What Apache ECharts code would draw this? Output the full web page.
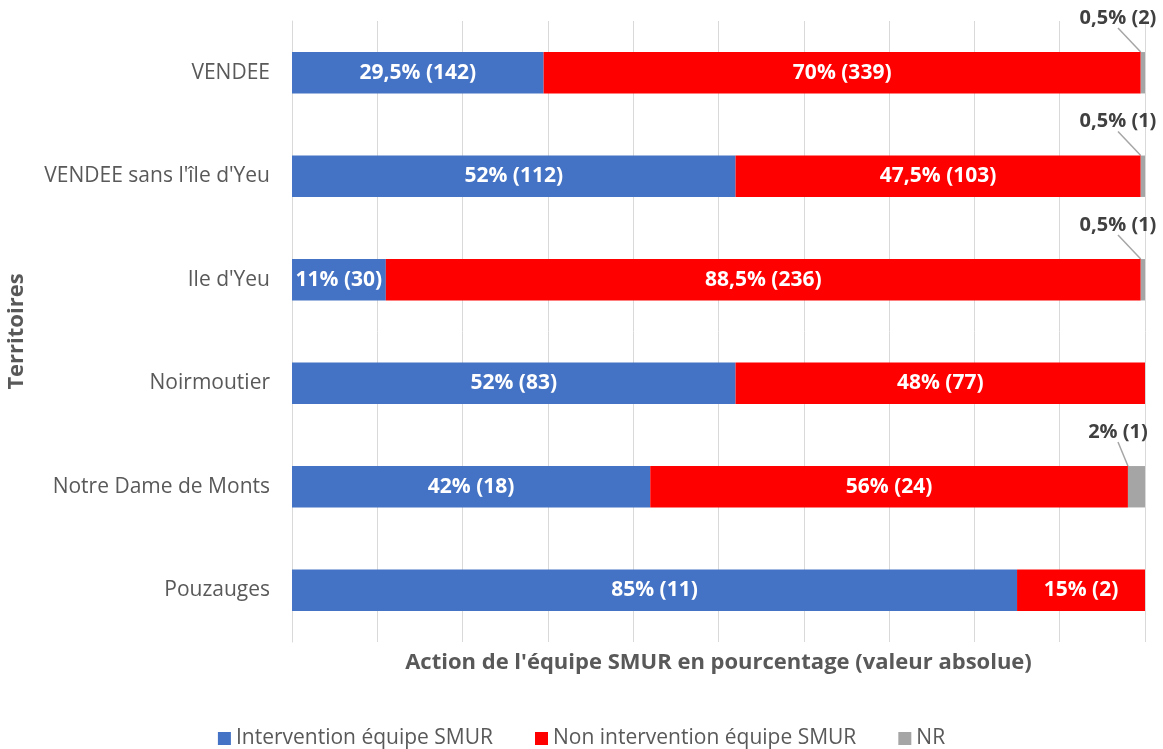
<!DOCTYPE html>
<html>
<head>
<meta charset="utf-8">
<script src="https://cdn.jsdelivr.net/npm/echarts@6/dist/echarts.min.js"></script>
<style>
  html, body { margin: 0; padding: 0; background: #fff; }
  #chart { width: 1163px; height: 749px; }
</style>
</head>
<body>
<div id="chart"></div>
<script>
const territoires = ['VENDEE', "VENDEE sans l'île d'Yeu", "Ile d'Yeu", 'Noirmoutier', 'Notre Dame de Monts', 'Pouzauges']

// pourcentages
const interventionPct = [29.5, 52, 11, 52, 42, 85]
const nonInterventionPct = [70, 47.5, 88.5, 48, 56, 15]
const nrPct = [0.5, 0.5, 0.5, 0, 2, 0]

// valeurs absolues
const interventionCount = [142, 112, 30, 83, 18, 11]
const nonInterventionCount = [339, 103, 236, 77, 24, 2]
const nrCount = [2, 1, 1, 0, 1, 0]

const textColor = '#595959'
const fontFamily = '"Open Sans", sans-serif'

const fmt = (pct, count) => String(pct).replace('.', ',') + '% (' + count + ')'

const chart = echarts.init(document.getElementById('chart'))

const insideLabel = (counts) => ({
  show: true,
  position: 'inside',
  color: '#fff',
  fontWeight: 'bold',
  fontSize: 21,
  fontFamily,
  formatter: (p) => fmt(p.value, counts[p.dataIndex])
})

const option = {
  animation: false,
  textStyle: { fontFamily },
  grid: { left: 292, right: 18, top: 21, bottom: 107, outerBoundsMode: 'none' },
  legend: {
    top: 723,
    left: 'center',
    itemWidth: 13,
    itemHeight: 13,
    itemGap: 42,
    icon: 'rect',
    textStyle: { color: textColor, fontSize: 21, fontFamily }
  },
  xAxis: {
    type: 'value',
    min: 0,
    max: 100,
    interval: 10,
    name: "Action de l'équipe SMUR en pourcentage (valeur absolue)",
    nameLocation: 'middle',
    nameGap: 10,
    nameTextStyle: { color: textColor, fontSize: 22, fontWeight: 'bold', fontFamily, verticalAlign: 'top' },
    axisLabel: { show: false },
    axisLine: { show: false },
    axisTick: { show: false },
    splitLine: { lineStyle: { color: '#d9d9d9', width: 1 } }
  },
  yAxis: {
    type: 'category',
    inverse: true,
    data: territoires,
    name: 'Territoires',
    nameLocation: 'middle',
    nameGap: 264,
    nameRotate: 90,
    nameTextStyle: { color: textColor, fontSize: 22, fontWeight: 'bold', fontFamily },
    axisLine: { show: true, lineStyle: { color: '#d9d9d9' } },
    axisTick: { show: false },
    axisLabel: { color: textColor, fontSize: 21, margin: 22, fontFamily }
  },
  series: [
    {
      name: 'Intervention équipe SMUR',
      type: 'bar',
      stack: 'total',
      barWidth: '40%',
      itemStyle: { color: '#4472C4' },
      label: insideLabel(interventionCount),
      data: interventionPct
    },
    {
      name: 'Non intervention équipe SMUR',
      type: 'bar',
      stack: 'total',
      itemStyle: { color: '#FF0000' },
      label: insideLabel(nonInterventionCount),
      data: nonInterventionPct
    },
    {
      name: 'NR',
      type: 'bar',
      stack: 'total',
      itemStyle: { color: '#A5A5A5' },
      label: {
        show: true,
        position: 'top',
        color: '#404040',
        fontWeight: 'bold',
        fontSize: 20,
        fontFamily,
        formatter: (p) => fmt(p.value, nrCount[p.dataIndex])
      },
      labelLine: { show: true, lineStyle: { color: '#a6a6a6', width: 1.5 } },
      labelLayout: (params) => ({
        x: params.rect.x + params.rect.width - 27,
        y: params.rect.y - 34,
        align: 'center',
        verticalAlign: 'middle'
      }),
      data: nrPct.map(v => (v > 0 ? v : '-'))
    }
  ]
}

chart.setOption(option)
</script>
</body>
</html>
